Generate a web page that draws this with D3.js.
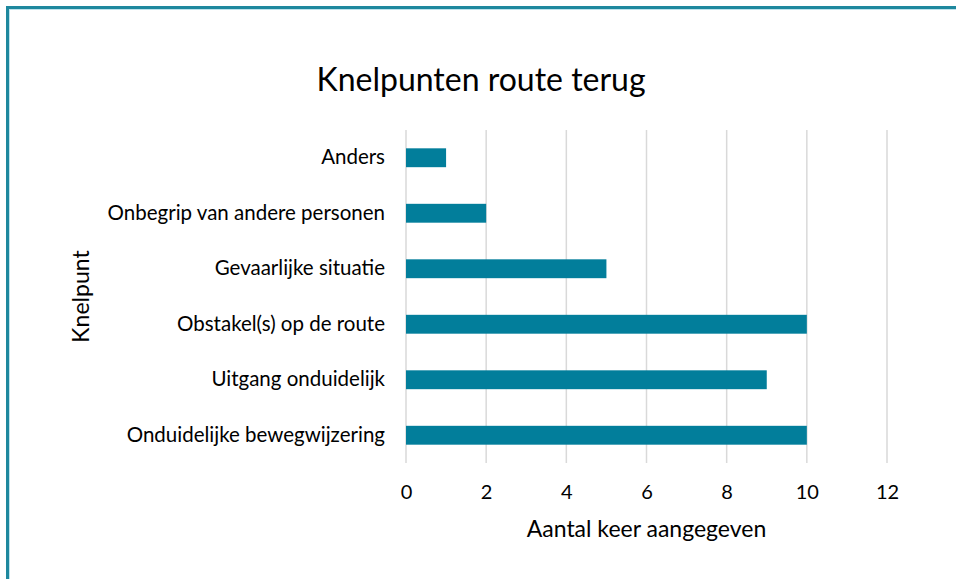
<!DOCTYPE html>
<html>
<head>
<meta charset="utf-8">
<script src="https://cdn.jsdelivr.net/npm/d3@7"></script>
<style>
  body { margin: 0; background: #fff; }
  text { font-family: Lato, "Open Sans", sans-serif; fill: #000; }
</style>
</head>
<body>
<div id="chart"></div>
<script>
// data
const categories = ["Anders", "Onbegrip van andere personen", "Gevaarlijke situatie",
  "Obstakel(s) op de route", "Uitgang onduidelijk", "Onduidelijke bewegwijzering"]
const counts = [1, 2, 5, 10, 9, 10]
const xTicks = [0, 2, 4, 6, 8, 10, 12]

const W = 956, H = 579
const plotX = 406, plotY = 130
const plotW = 481, plotH = 333
const font = "Lato, \"Open Sans\", sans-serif"

const svg = d3.select("#chart").append("svg")
  .attr("width", W).attr("height", H)

// Rahmen (nur oben/links sichtbar)
svg.append("rect")
  .attr("x", 7.5).attr("y", 7.5)
  .attr("width", W + 20).attr("height", H + 20)
  .attr("fill", "none").attr("stroke", "#1E889E").attr("stroke-width", 3)
svg.append("rect")
  .attr("x", 9.5).attr("y", 9.5)
  .attr("width", W + 20).attr("height", H + 20)
  .attr("fill", "none").attr("stroke", "#BFE3EC").attr("stroke-width", 1)

const x = d3.scaleLinear().domain([0, 12]).range([0, plotW])
const y = d3.scaleBand().domain(categories).range([0, plotH]).paddingInner(0.66).paddingOuter(0.33)

const g = svg.append("g").attr("transform", "translate(" + plotX + "," + plotY + ")")

// Gitterlinien
g.selectAll("line.grid")
  .data(xTicks)
  .enter()
  .append("line")
  .attr("class", "grid")
  .attr("x1", d => x(d)).attr("x2", d => x(d))
  .attr("y1", 0).attr("y2", plotH)
  .attr("stroke", "#D9D9D9").attr("stroke-width", 1.5)

// Balken
g.selectAll("rect.bar")
  .data(categories)
  .enter()
  .append("rect")
  .attr("class", "bar")
  .attr("x", x(0))
  .attr("y", d => y(d))
  .attr("width", (d, i) => x(counts[i]) - x(0))
  .attr("height", y.bandwidth())
  .attr("fill", "#027E9B")

// x-Achse
const xAxis = g.append("g")
  .attr("transform", "translate(0," + (plotH + 20) + ")")
  .call(d3.axisBottom(x).tickValues(xTicks).tickSize(0).tickPadding(0))
xAxis.select(".domain").remove()
xAxis.selectAll("text").attr("font-size", 20).attr("dy", "0.8em")
  .style("font-family", font).attr("fill", "#000")

// y-Achse
const yAxis = g.append("g")
  .call(d3.axisLeft(y).tickSize(0).tickPadding(21))
yAxis.select(".domain").remove()
yAxis.selectAll("text").attr("font-size", 20.5)
  .style("font-family", font).attr("fill", "#000")

// Titel
svg.append("text")
  .attr("x", 481).attr("y", 91)
  .attr("text-anchor", "middle")
  .attr("font-size", 32)
  .text("Knelpunten route terug")

// Achsentitel
svg.append("text")
  .attr("x", plotX + plotW / 2).attr("y", 537)
  .attr("text-anchor", "middle")
  .attr("font-size", 23)
  .text("Aantal keer aangegeven")

svg.append("text")
  .attr("transform", "translate(89," + (plotY + plotH / 2) + ") rotate(-90)")
  .attr("text-anchor", "middle")
  .attr("font-size", 23)
  .text("Knelpunt")
</script>
</body>
</html>
